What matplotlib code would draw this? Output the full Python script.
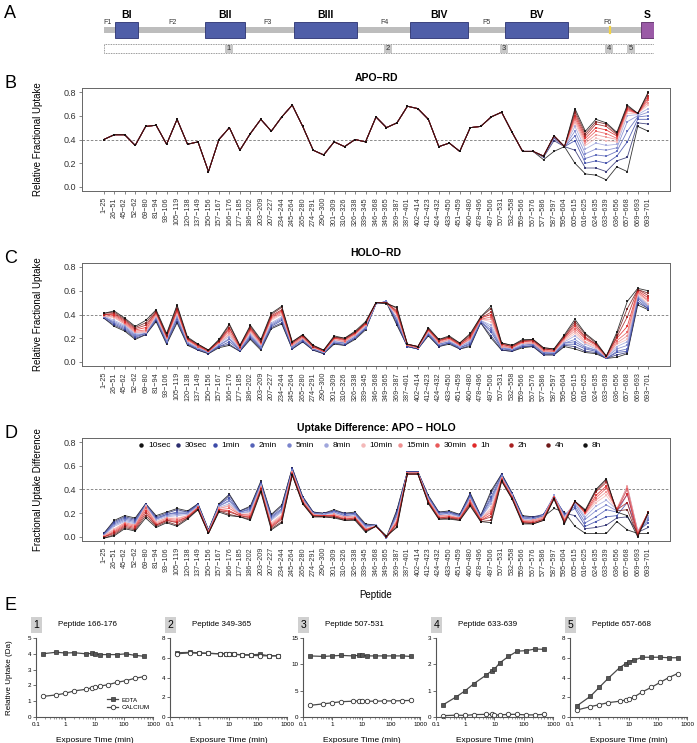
import numpy as np
import matplotlib
matplotlib.use("Agg")
import matplotlib.pyplot as plt
from matplotlib.patches import Rectangle

plt.rcParams['font.family'] = ['Liberation Sans', 'DejaVu Sans']

W, H = 697, 743

# ---------------- data ----------------
peptides = ["1-25", "26-51", "45-62", "52-62", "69-80", "81-94", "93-106", "105-119", "120-138",
            "137-149", "150-156", "157-167", "166-176", "177-185", "186-202", "203-209", "207-227",
            "234-244", "245-264", "265-280", "274-291", "290-300", "301-309", "310-326", "326-338",
            "339-345", "346-368", "349-365", "369-387", "387-401", "402-414", "412-423", "424-432",
            "433-450", "451-459", "460-480", "478-496", "497-506", "507-531", "532-558", "559-566",
            "567-576", "577-586", "587-597", "595-604", "605-615", "616-625", "624-635", "633-639",
            "636-656", "657-668", "669-693", "693-701"]

time_labels = ["10sec", "30sec", "1min", "2min", "5min", "8min", "10min", "15min", "30min",
               "1h", "2h", "4h", "8h"]
series_colors = ["#111111", "#2b2d6e", "#3c4aa8", "#5562b8", "#7a84cc", "#a0a6dc", "#f4b9b9",
                 "#ef9090", "#e85a5a", "#e02828", "#a82020", "#6e1818", "#111111"]

# APO-RD: peptides 1-42 overlap for every time point, the C-terminal ones spread out
apo_shared = [0.40, 0.44, 0.44, 0.35, 0.51, 0.52, 0.36, 0.57, 0.36, 0.38,
              0.13, 0.40, 0.50, 0.31, 0.45, 0.57, 0.47, 0.59, 0.69, 0.51,
              0.31, 0.27, 0.38, 0.34, 0.40, 0.38, 0.59, 0.50, 0.54, 0.68,
              0.66, 0.57, 0.34, 0.37, 0.30, 0.50, 0.51, 0.59, 0.63, 0.46,
              0.30, 0.30]
apo_tail_10sec = [0.23, 0.30, 0.34, 0.20, 0.11, 0.10, 0.06, 0.17, 0.13, 0.51, 0.47]
apo_tail_30sec = [0.25, 0.39, 0.34, 0.31, 0.16, 0.16, 0.13, 0.22, 0.25, 0.54, 0.53]
apo_tail_1min = [0.26, 0.41, 0.34, 0.39, 0.20, 0.22, 0.20, 0.26, 0.38, 0.57, 0.57]
apo_tail_2min = [0.26, 0.42, 0.34, 0.43, 0.24, 0.27, 0.26, 0.30, 0.47, 0.59, 0.60]
apo_tail_5min = [0.26, 0.42, 0.34, 0.47, 0.28, 0.32, 0.31, 0.33, 0.55, 0.60, 0.63]
apo_tail_8min = [0.26, 0.43, 0.34, 0.51, 0.32, 0.37, 0.35, 0.36, 0.60, 0.61, 0.66]
apo_tail_10min = [0.26, 0.43, 0.34, 0.54, 0.35, 0.41, 0.39, 0.38, 0.62, 0.62, 0.69]
apo_tail_15min = [0.26, 0.43, 0.34, 0.56, 0.37, 0.44, 0.42, 0.40, 0.64, 0.62, 0.71]
apo_tail_30min = [0.26, 0.43, 0.34, 0.58, 0.39, 0.47, 0.45, 0.41, 0.65, 0.62, 0.73]
apo_tail_1h = [0.26, 0.43, 0.34, 0.60, 0.41, 0.50, 0.48, 0.43, 0.66, 0.62, 0.75]
apo_tail_2h = [0.26, 0.43, 0.34, 0.62, 0.43, 0.53, 0.51, 0.44, 0.67, 0.62, 0.77]
apo_tail_4h = [0.26, 0.43, 0.34, 0.64, 0.45, 0.55, 0.53, 0.45, 0.68, 0.62, 0.79]
apo_tail_8h = [0.26, 0.43, 0.34, 0.66, 0.47, 0.57, 0.54, 0.46, 0.69, 0.62, 0.80]

# HOLO-RD
holo_10sec = [.37, .30, .26, .19, .23, .34, .15, .33, .14, .10, .07, .12, .14, .09, .19, .10, .28, .32,
              .11, .17, .10, .07, .15, .14, .19, .27, .49, .50, .31, .13, .11, .22, .13, .15, .11, .13,
              .33, .20, .10, .09, .12, .13, .06, .06, .13, .11, .08, .07, .03, .04, .07, .48, .44]
holo_30sec = [.37, .31, .27, .20, .23, .35, .16, .34, .15, .10, .07, .13, .15, .09, .20, .11, .29, .33,
              .11, .17, .10, .07, .16, .14, .20, .28, .49, .51, .32, .13, .11, .23, .13, .16, .11, .14,
              .33, .22, .10, .09, .13, .13, .06, .06, .14, .13, .09, .08, .03, .06, .08, .50, .45]
holo_1min = [.38, .32, .28, .21, .24, .36, .17, .36, .15, .11, .08, .13, .17, .10, .21, .12, .30, .35,
             .12, .18, .11, .08, .16, .15, .20, .28, .49, .51, .34, .13, .11, .23, .14, .16, .12, .15,
             .34, .25, .11, .10, .13, .14, .07, .07, .15, .15, .11, .09, .03, .08, .09, .52, .45]
holo_2min = [.38, .33, .29, .22, .24, .37, .17, .37, .16, .11, .08, .14, .19, .10, .22, .12, .31, .36,
             .13, .19, .11, .08, .17, .16, .21, .29, .49, .51, .35, .14, .12, .24, .15, .17, .12, .16,
             .34, .27, .12, .10, .14, .15, .08, .07, .16, .17, .12, .10, .03, .09, .11, .54, .46]
holo_5min = [.38, .34, .30, .23, .24, .37, .18, .38, .16, .12, .08, .14, .20, .11, .23, .13, .32, .37,
             .13, .19, .11, .08, .17, .16, .21, .29, .49, .51, .36, .14, .12, .24, .15, .17, .13, .17,
             .35, .29, .12, .11, .14, .15, .08, .08, .16, .19, .13, .10, .04, .11, .14, .55, .47]
holo_8min = [.39, .35, .31, .24, .25, .38, .19, .39, .17, .12, .08, .15, .22, .11, .24, .14, .33, .38,
             .14, .20, .12, .08, .18, .17, .22, .30, .49, .50, .37, .14, .12, .25, .16, .18, .13, .18,
             .35, .31, .13, .11, .15, .16, .09, .08, .17, .22, .15, .11, .04, .13, .17, .56, .48]
holo_10min = [.39, .37, .32, .25, .25, .39, .20, .41, .18, .13, .09, .16, .23, .12, .25, .15, .35, .40,
              .14, .20, .12, .09, .19, .17, .23, .31, .50, .50, .39, .14, .12, .26, .16, .19, .14, .19,
              .36, .34, .13, .12, .16, .16, .09, .09, .18, .24, .16, .12, .04, .15, .19, .57, .49]
holo_15min = [.39, .38, .32, .25, .26, .40, .20, .42, .18, .13, .09, .16, .24, .12, .26, .15, .36, .41,
              .14, .20, .12, .09, .19, .17, .23, .31, .50, .50, .40, .14, .12, .26, .16, .19, .14, .19,
              .36, .36, .13, .12, .16, .16, .09, .09, .19, .26, .17, .13, .04, .16, .22, .58, .51]
holo_30min = [.40, .39, .33, .26, .27, .41, .21, .43, .19, .13, .09, .17, .26, .12, .27, .16, .37, .42,
              .15, .21, .13, .09, .20, .18, .24, .32, .50, .50, .41, .14, .12, .27, .17, .20, .14, .20,
              .36, .38, .14, .12, .17, .17, .10, .09, .20, .28, .19, .14, .04, .18, .25, .59, .52]
holo_1h = [.40, .40, .34, .27, .29, .42, .22, .44, .19, .14, .09, .17, .28, .13, .28, .17, .38, .43,
           .16, .22, .13, .09, .20, .19, .24, .32, .50, .50, .42, .15, .13, .27, .18, .20, .15, .21,
           .37, .40, .15, .13, .17, .18, .11, .10, .21, .30, .20, .15, .05, .20, .30, .60, .54]
holo_2h = [.40, .41, .35, .28, .31, .42, .22, .45, .20, .14, .10, .18, .29, .13, .29, .17, .39, .44,
           .16, .22, .13, .10, .21, .19, .25, .33, .50, .50, .43, .15, .13, .28, .18, .21, .15, .22,
           .37, .42, .15, .13, .18, .18, .11, .10, .21, .32, .21, .15, .05, .21, .38, .61, .56]
holo_4h = [.41, .42, .36, .29, .33, .43, .23, .47, .20, .15, .10, .18, .31, .14, .30, .18, .40, .46,
           .17, .23, .14, .10, .21, .20, .25, .33, .50, .50, .45, .15, .13, .28, .19, .21, .16, .23,
           .38, .45, .16, .14, .18, .19, .12, .11, .22, .34, .23, .16, .05, .23, .45, .61, .58]
holo_8h = [.41, .43, .37, .30, .35, .44, .24, .48, .21, .15, .10, .19, .32, .14, .31, .19, .41, .47,
           .17, .23, .14, .10, .22, .20, .26, .34, .50, .49, .46, .15, .13, .29, .19, .22, .16, .24,
           .38, .47, .16, .14, .19, .19, .12, .11, .23, .36, .24, .17, .05, .25, .51, .62, .60]

# panel E: deuterium uptake kinetics (Da) for 5 peptides
exposure_min = [0.167, 0.5, 1, 2, 5, 8, 10, 15, 30, 60, 120, 240, 480]
e_titles = ["Peptide 166-176", "Peptide 349-365", "Peptide 507-531", "Peptide 633-639", "Peptide 657-668"]
e_ymax = [5, 8, 15, 3, 8]
e_ystep = [1, 2, 5, 1, 2]
edta_1 = [4.0, 4.1, 4.05, 4.07, 4.0, 4.02, 4.0, 3.95, 3.95, 3.95, 4.0, 3.9, 3.85]
calcium_1 = [1.3, 1.4, 1.5, 1.65, 1.75, 1.85, 1.87, 1.95, 2.05, 2.2, 2.3, 2.45, 2.55]
edta_2 = [6.5, 6.55, 6.5, 6.45, 6.4, 6.4, 6.4, 6.35, 6.3, 6.3, 6.35, 6.2, 6.2]
calcium_2 = [6.4, 6.5, 6.45, 6.45, 6.4, 6.4, 6.4, 6.35, 6.3, 6.25, 6.2, 6.2, 6.2]
edta_3 = [11.6, 11.5, 11.6, 11.7, 11.6, 11.7, 11.7, 11.6, 11.6, 11.6, 11.6, 11.6, 11.5]
calcium_3 = [2.2, 2.5, 2.7, 2.9, 3.0, 3.05, 3.0, 3.0, 3.0, 3.05, 3.05, 3.1, 3.15]
edta_4 = [0.45, 0.77, 1.0, 1.27, 1.58, 1.75, 1.82, 2.05, 2.3, 2.5, 2.52, 2.58, 2.57]
calcium_4 = [0.05, 0.07, 0.06, 0.09, 0.1, 0.1, 0.07, 0.08, 0.1, 0.1, 0.08, 0.08, 0.1]
edta_5 = [1.1, 2.1, 3.0, 3.9, 5.0, 5.4, 5.6, 5.75, 6.05, 6.05, 6.05, 6.0, 6.0]
calcium_5 = [0.7, 1.05, 1.25, 1.45, 1.6, 1.72, 1.8, 2.0, 2.55, 3.0, 3.5, 4.0, 4.4]

# panel A: domain map (residue coordinates)
blocks = [("BI", 14, 43), ("BII", 129, 180), ("BIII", 242, 322), ("BIV", 390, 464), ("BV", 511, 591)]
f_labels = [("F1", 4), ("F2", 87), ("F3", 209), ("F4", 357), ("F5", 488), ("F6", 642)]
marker_pos = [159, 362, 510, 644, 672]

apo_tails = [apo_tail_10sec, apo_tail_30sec, apo_tail_1min, apo_tail_2min, apo_tail_5min,
             apo_tail_8min, apo_tail_10min, apo_tail_15min, apo_tail_30min, apo_tail_1h,
             apo_tail_2h, apo_tail_4h, apo_tail_8h]
apo = np.array([apo_shared + t for t in apo_tails])
holo = np.array([holo_10sec, holo_30sec, holo_1min, holo_2min, holo_5min, holo_8min, holo_10min,
                 holo_15min, holo_30min, holo_1h, holo_2h, holo_4h, holo_8h])
diff = apo - holo

fig = plt.figure(figsize=(W / 100, H / 100), dpi=100)


def px_rect(left, top, right, bottom):
    return [left / W, 1 - bottom / H, (right - left) / W, (bottom - top) / H]


# ---------------- panel A ----------------
axa = fig.add_axes([104 / W, 1 - 58 / H, 550 / W, 50 / H])
axa.set_xlim(0, 701)
axa.set_ylim(58, 8)
axa.axis('off')
axa.add_patch(Rectangle((0, 27), 684, 6, fc='#bdbdbd', ec='none'))
for name, a, b in blocks:
    axa.add_patch(Rectangle((a, 22), b - a, 16, fc='#4f5ea8', ec='#2a3170', lw=0.6))
    axa.text((a + b) / 2, 15, name, ha='center', va='center', fontsize=7.5, fontweight='bold')
axa.add_patch(Rectangle((684, 22), 17, 16, fc='#9a5aa6', ec='#5a2a66', lw=0.6))
axa.text(692, 15, "S", ha='center', va='center', fontsize=7.5, fontweight='bold')
axa.plot([645, 645], [27, 33], color='#f5d442', lw=1.6)
for name, pos in f_labels:
    axa.text(pos, 23, name, ha='center', va='center', fontsize=5, color='#333333')
axa.add_patch(Rectangle((0, 44), 701, 9, fc='none', ec='#777777', lw=0.6, ls=(0, (1, 1))))
for k, pos in enumerate(marker_pos):
    axa.add_patch(Rectangle((pos - 5, 44.5), 10, 8, fc='#c8c8c8', ec='none'))
    axa.text(pos, 48.5, str(k + 1), ha='center', va='center', fontsize=5.5, color='#333333')


# ---------------- panels B, C, D ----------------
def uptake_panel(top, series, title, ylabel):
    ax = fig.add_axes(px_rect(82, top, 670, top + 102.6))
    x = np.arange(1, len(peptides) + 1)
    for vals, col in zip(series, series_colors):
        ax.plot(x, vals, color=col, lw=0.6, marker='s', ms=1.5, mew=0, alpha=0.85)
    ax.axhline(0.4, color='#777777', lw=0.6, ls=(0, (3, 2)), zorder=0)
    ax.set_xlim(1 - 0.04 * 52, 53 + 0.04 * 52)
    ax.set_ylim(-0.032, 0.832)
    ax.set_yticks([0, 0.2, 0.4, 0.6, 0.8])
    ax.set_yticklabels(["0.0", "0.2", "0.4", "0.6", "0.8"], fontsize=6.5, color='#333333')
    ax.set_xticks(x)
    ax.set_xticklabels([p.replace('-', '\u2212') for p in peptides], rotation=90,
                       fontsize=5.2, color='#333333')
    ax.tick_params(length=2.5, width=0.5, color='#555555', pad=2)
    for s in ax.spines.values():
        s.set_color('#666666')
        s.set_linewidth(0.7)
    ax.set_title(title, fontsize=7.5, fontweight='bold', pad=5)
    ax.set_ylabel(ylabel, fontsize=7)
    ax.yaxis.set_label_coords(-0.066, 0.5)
    return ax


uptake_panel(88.2, apo, "APO\u2212RD", "Relative Fractional Uptake")
uptake_panel(263.2, holo, "HOLO\u2212RD", "Relative Fractional Uptake")
axd = uptake_panel(438.2, diff, "Uptake Difference: APO \u2212 HOLO", "Fractional Uptake Difference")
axd.set_xlabel("Peptide", fontsize=7)
axd.xaxis.set_label_coords(0.5, -0.48)
for k, (lab, col) in enumerate(zip(time_labels, series_colors)):
    xa = 0.100 + k * 0.0629
    axd.plot([xa], [0.93], transform=axd.transAxes, marker='o', ms=2.2, color=col,
             ls='none', clip_on=False)
    axd.text(xa + 0.012, 0.93, lab, transform=axd.transAxes, fontsize=6, va='center', ha='left')

# ---------------- panel E ----------------
edta_all = [edta_1, edta_2, edta_3, edta_4, edta_5]
calcium_all = [calcium_1, calcium_2, calcium_3, calcium_4, calcium_5]
e_lefts = [36, 170, 303, 436, 570]
for i in range(5):
    ax = fig.add_axes(px_rect(e_lefts[i], 638, e_lefts[i] + 117, 717))
    ax.plot(exposure_min, edta_all[i], color='#4a4a4a', lw=0.9, marker='s', ms=3.2,
            mfc='#555555', mec='#333333', mew=0.5, label='EDTA', clip_on=False)
    ax.plot(exposure_min, calcium_all[i], color='#4a4a4a', lw=0.9, marker='o', ms=3.2,
            mfc='white', mec='#333333', mew=0.6, label='CALCIUM', clip_on=False)
    ax.set_xscale('log')
    ax.set_xlim(0.1, 1000)
    ax.set_ylim(0, e_ymax[i])
    ax.set_yticks(np.arange(0, e_ymax[i] + 0.1, e_ystep[i]))
    ax.set_xticks([0.1, 1, 10, 100, 1000])
    ax.set_xticklabels(["0.1", "1", "10", "100", "1000"])
    ax.spines['top'].set_visible(False)
    ax.spines['right'].set_visible(False)
    for s in ('left', 'bottom'):
        ax.spines[s].set_color('#555555')
        ax.spines[s].set_linewidth(0.8)
    ax.tick_params(which='major', length=2, width=0.6, labelsize=4.5, pad=1.5, color='#555555')
    ax.tick_params(which='minor', length=1.2, width=0.4, color='#555555')
    ax.set_xlabel("Exposure Time (min)", fontsize=6)
    ax.xaxis.set_label_coords(0.5, -0.25)
    ax.text(-0.02, 1.165, str(i + 1), transform=ax.transAxes, fontsize=7.5, ha='left', va='center',
            bbox=dict(boxstyle='square,pad=0.25', fc='#d0d0d0', ec='none'))
    ax.text(0.19, 1.165, e_titles[i], transform=ax.transAxes, fontsize=5.8, ha='left', va='center')
    if i == 0:
        ax.set_ylabel("Relative Uptake (Da)", fontsize=5.8)
        ax.yaxis.set_label_coords(-0.2, 0.5)
        ax.legend(loc='lower right', bbox_to_anchor=(1.02, 0.02), fontsize=4.5, frameon=False,
                  handlelength=1.8, handletextpad=0.5, labelspacing=0.3)

# panel letters
for letter, y in [("A", 13), ("B", 83), ("C", 258), ("D", 433), ("E", 605)]:
    fig.text(4 / W, 1 - y / H, letter, fontsize=13, ha='left', va='center')

fig.savefig("out.png", dpi=100)
